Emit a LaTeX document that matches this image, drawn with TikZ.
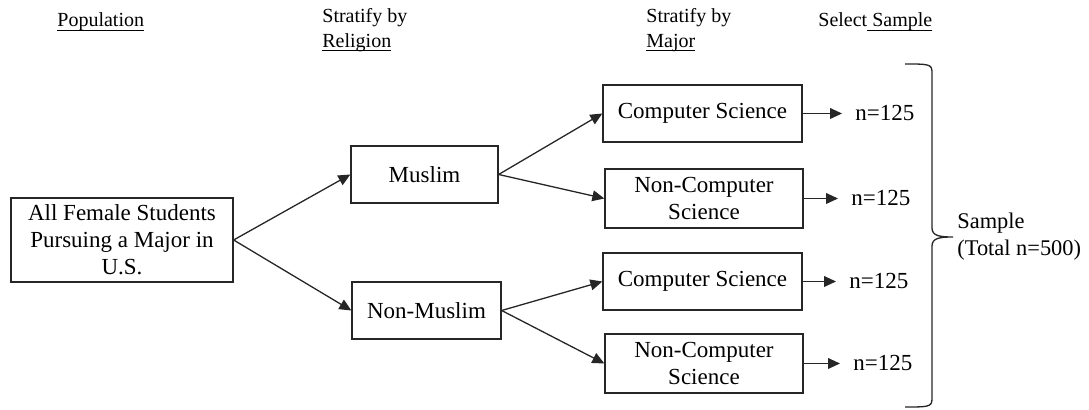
\documentclass[tikz,border=0pt]{standalone}
\usepackage{fontspec}
\setmainfont{Liberation Serif}
\usetikzlibrary{arrows.meta}
\newlength\myullen
\newcommand\myul[1]{\settowidth\myullen{#1}\rlap{\rule[-2pt]{\myullen}{0.5pt}}#1}
\begin{document}
\begin{tikzpicture}[x=0.5pt,y=-0.5pt,
 box/.style={draw=black!85,line width=0.65pt,align=center,inner sep=0pt,font=\rmfamily\fontsize{11.5}{13.5}\selectfont},
 lbl/.style={inner sep=0pt,font=\rmfamily\fontsize{10}{12.5}\selectfont,align=left},
 arr/.style={draw=black!85,line width=0.65pt,-{Triangle[length=6pt,width=5.4pt]}},
 num/.style={anchor=west,inner xsep=6.5pt,inner ysep=0pt,font=\rmfamily\fontsize{11.5}{13.5}\selectfont},
 brace/.style={draw=black!85,line width=0.65pt}]
\useasboundingbox (0,0) rectangle (1089,410);
% headers
\node[lbl,anchor=base west] (pop) at (57,27) {\myul{Population}};
\node[lbl,anchor=north west] (rel) at (322,8) {Stratify by\\\myul{Religion}};
\node[lbl,anchor=north west] (maj) at (646,8) {Stratify by\\\myul{Major}};
\node[lbl,anchor=base west] (sel) at (818,27) {Select\myul{ Sample}};
% boxes
\node[box,minimum width=111pt,minimum height=42pt] (root) at (122,240) {All Female Students\\Pursuing a Major in\\U.S.};
\node[box,minimum width=73.5pt,minimum height=28.5pt] (mus) at (424.5,174.5) {Muslim};
\node[box,minimum width=74.5pt,minimum height=28.5pt] (nmus) at (426.5,310.5) {Non-Muslim};
\node[box,minimum width=99.5pt,minimum height=28.5pt] (cs1) at (702.5,113.5) {Computer Science};
\node[box,minimum width=99pt,minimum height=29.5pt] (ncs1) at (704,198.5) {Non-Computer\\Science};
\node[box,minimum width=99.5pt,minimum height=28.5pt] (cs2) at (702.5,281.5) {Computer Science};
\node[box,minimum width=99pt,minimum height=29.5pt] (ncs2) at (704,363.5) {Non-Computer\\Science};
% counts
\node[num] (n1) at (842,113.5) {n=125};
\node[num] (n2) at (838,198.5) {n=125};
\node[num] (n3) at (836,281.5) {n=125};
\node[num] (n4) at (840,363.5) {n=125};
% arrows
\draw[arr] (root.east) -- (mus.west);
\draw[arr] (root.east) -- (nmus.west);
\draw[arr] (mus.east) -- (cs1.west);
\draw[arr] (mus.east) -- (ncs1.west);
\draw[arr] (nmus.east) -- (cs2.west);
\draw[arr] (nmus.east) -- (ncs2.west);
\draw[arr] (cs1.east) -- (n1.west);
\draw[arr] (ncs1.east) -- (n2.west);
\draw[arr] (cs2.east) -- (n3.west);
\draw[arr] (ncs2.east) -- (n4.west);
% brace
\coordinate (btop) at (905,64);
\coordinate (btip) at (953,237);
\coordinate (bbot) at (905,407);
\draw[brace] (btop) .. controls (928,64) and (932,64) .. (932,72) -- (932,228)
  .. controls (932,236) and (940,237) .. (btip)
  .. controls (940,237) and (932,238) .. (932,246) -- (932,399)
  .. controls (932,407) and (928,407) .. (bbot);
\node[lbl,anchor=west,font=\rmfamily\fontsize{11.2}{13.5}\selectfont] (samp) at (957,237) {Sample\\(Total n=500)};
\end{tikzpicture}
\end{document}
